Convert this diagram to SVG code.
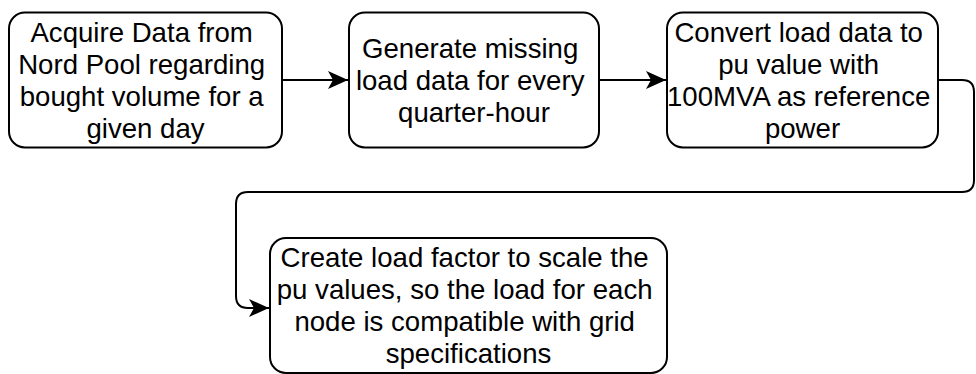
<svg xmlns="http://www.w3.org/2000/svg" width="976" height="374" viewBox="0 0 976 374">
  <style>
    .box { fill: #ffffff; stroke: #000000; stroke-width: 2; }
    .label { font-family: "Liberation Sans", Arial, sans-serif; font-size: 27.6px; fill: #000000; text-anchor: middle; }
    .edge { fill: none; stroke: #000000; stroke-width: 2; }
  </style>
  <defs>
    <marker id="arrow" markerUnits="userSpaceOnUse" viewBox="0 0 20 18" refX="20" refY="9" markerWidth="20" markerHeight="18" orient="auto">
      <path d="M0,0 L20,9 L0,18 L5,9 Z" fill="#000000"/>
    </marker>
  </defs>
  <rect width="976" height="374" fill="#ffffff"/>

  <g id="connectors">
    <path class="edge" d="M282,80 H348" marker-end="url(#arrow)"/>
    <path class="edge" d="M599,80 H666" marker-end="url(#arrow)"/>
    <path class="edge" d="M938,80 H962 Q974,80 974,92 V180 Q974,192 962,192 H248 Q236,192 236,204 V296 Q236,308 248,308 H269" marker-end="url(#arrow)"/>
  </g>

  <g id="node-acquire">
    <rect class="box" x="9" y="12.5" width="273" height="135" rx="16" ry="16"/>
    <text class="label">
      <tspan x="145.5" y="41.5">Acquire Data from</tspan>
      <tspan x="145.5" y="73.5">Nord Pool regarding</tspan>
      <tspan x="145.5" y="105.5">bought volume for a</tspan>
      <tspan x="145.5" y="137.5">given day</tspan>
    </text>
  </g>

  <g id="node-generate">
    <rect class="box" x="349" y="12.5" width="250" height="135" rx="16" ry="16"/>
    <text class="label">
      <tspan x="474" y="57.5">Generate missing</tspan>
      <tspan x="474" y="89.5">load data for every</tspan>
      <tspan x="474" y="121.5">quarter-hour</tspan>
    </text>
  </g>

  <g id="node-convert">
    <rect class="box" x="667" y="12.5" width="271" height="135" rx="16" ry="16"/>
    <text class="label">
      <tspan x="802.5" y="41.5">Convert load data to</tspan>
      <tspan x="802.5" y="73.5">pu value with</tspan>
      <tspan x="802.5" y="105.5">100MVA as reference</tspan>
      <tspan x="802.5" y="137.5">power</tspan>
    </text>
  </g>

  <g id="node-scale">
    <rect class="box" x="270" y="238" width="397" height="135" rx="16" ry="16"/>
    <text class="label">
      <tspan x="468.5" y="267">Create load factor to scale the</tspan>
      <tspan x="468.5" y="299">pu values, so the load for each</tspan>
      <tspan x="468.5" y="331">node is compatible with grid</tspan>
      <tspan x="468.5" y="363">specifications</tspan>
    </text>
  </g>
</svg>
